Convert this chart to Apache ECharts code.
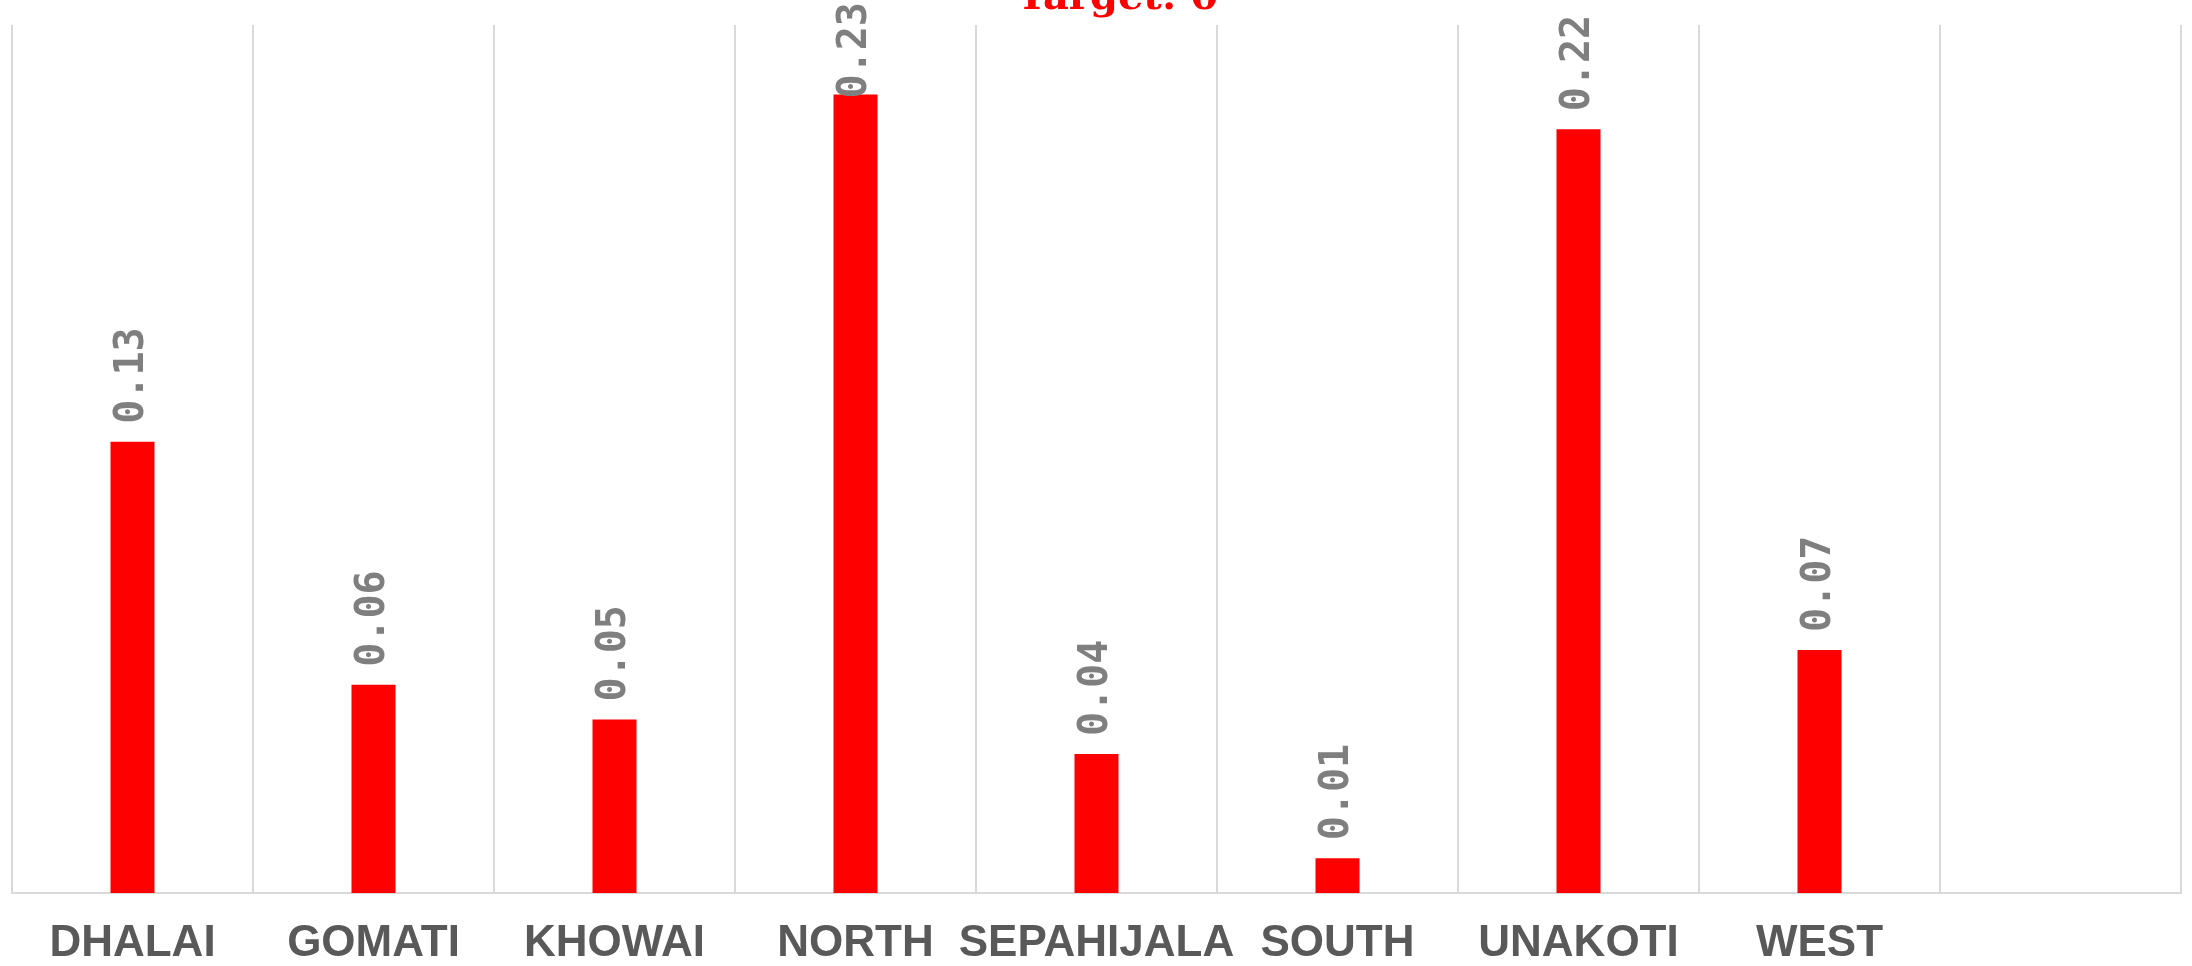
<!DOCTYPE html>
<html>
<head>
<meta charset="utf-8">
<script src="https://cdn.jsdelivr.net/npm/echarts@6/dist/echarts.min.js"></script>
<style>
	html, body { margin: 0; padding: 0; background: #fff; }
	#barChart { width: 2192px; height: 966px; }
</style>
</head>
<body>
<div id="barChart"></div>
<script>
	// districts, last slot is empty in the original
	var districts = ['DHALAI', 'GOMATI', 'KHOWAI', 'NORTH', 'SEPAHIJALA', 'SOUTH', 'UNAKOTI', 'WEST', ''];
	var values = [0.13, 0.06, 0.05, 0.23, 0.04, 0.01, 0.22, 0.07, null];
	var titleText = 'Target: 0';

	// the tallest label would leave the canvas, so it is pulled down onto the bar
	var barData = values.map(function (v) {
		if (v !== null && v > 0.225) {
			return { value: v, label: { distance: -4 } };
		}
		return v;
	});

	var chart = echarts.init(document.getElementById('barChart'));
	var option = {
		animation: false,
		title: {
			text: titleText,
			left: 1012,
			top: -26,
			textStyle: {
				fontFamily: 'DejaVu Serif',
				fontWeight: 'bold',
				fontSize: 40,
				color: '#ff0000'
			}
		},
		grid: {
			left: 12,
			right: 11,
			top: 25,
			bottom: 72
		},
		xAxis: {
			type: 'category',
			data: districts,
			axisTick: { show: false },
			axisLine: {
				lineStyle: { color: '#d9d9d9', width: 2 }
			},
			splitLine: {
				show: true,
				lineStyle: { color: '#d9d9d9', width: 2 }
			},
			axisLabel: {
				interval: 0,
				margin: 29,
				color: '#595959',
				fontFamily: 'Liberation Sans',
				fontWeight: 'bold',
				fontSize: 44
			}
		},
		yAxis: {
			type: 'value',
			min: 0,
			max: 0.25,
			show: false,
			splitLine: { show: false }
		},
		series: [{
			type: 'bar',
			data: barData,
			barWidth: 44,
			itemStyle: { color: '#ff0000' },
			label: {
				show: true,
				position: 'top',
				rotate: 90,
				align: 'left',
				verticalAlign: 'middle',
				distance: 18,
				color: '#7f7f7f',
				fontFamily: 'DejaVu Sans Mono',
				fontWeight: 'bold',
				fontSize: 40
			}
		}]
	};
	chart.setOption(option);
</script>
</body>
</html>
